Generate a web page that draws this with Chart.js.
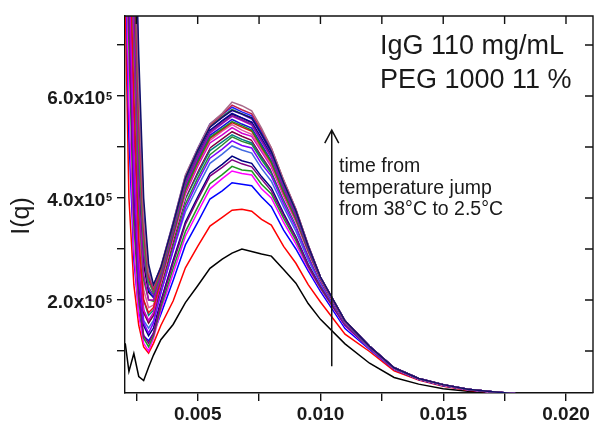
<!DOCTYPE html>
<html>
<head>
<meta charset="utf-8">
<script src="https://cdn.jsdelivr.net/npm/chart.js@4.4.1/dist/chart.umd.min.js"></script>
<style>
  html, body { margin: 0; padding: 0; background: #fff; }
  #wrap { width: 594px; height: 426px; position: relative; }
</style>
</head>
<body>
<div id="wrap"><canvas id="c"></canvas></div>
<script>
// q values shared by all curves
const qValues = [0.00205, 0.0022, 0.0024, 0.0026, 0.0028, 0.0030, 0.0032, 0.0035, 0.0040, 0.0045,
                 0.0050, 0.0055, 0.0060, 0.0064, 0.0068, 0.0072, 0.0076, 0.0080, 0.0085, 0.0090,
                 0.0095, 0.0100, 0.0110, 0.0120, 0.0130, 0.0140, 0.0150, 0.0160, 0.0170, 0.0180,
                 0.0190, 0.0210];

// I(q) in units of 1e5, one array per time step (earliest first)
const s01 = [1.15, 0.6, 0.95, 0.5, 0.42, 0.68, 0.92, 1.22, 1.52, 1.95, 2.28, 2.62, 2.8, 2.92, 3.0, 2.95, 2.9, 2.86, 2.6, 2.33, 1.93, 1.62, 1.14, 0.76, 0.48, 0.35, 0.26, 0.21, 0.18, 0.15, 0.12, 0.08];
const s02 = [7.8, 4.0, 2.3, 1.5, 1.08, 0.96, 1.15, 1.5, 1.98, 2.63, 3.05, 3.45, 3.62, 3.76, 3.78, 3.74, 3.58, 3.47, 3.05, 2.72, 2.3, 1.96, 1.33, 0.99, 0.61, 0.43, 0.31, 0.23, 0.19, 0.155, 0.125, 0.085];
const s03 = [9, 5.2, 2.8, 1.75, 1.3, 1.2, 1.35, 1.72, 2.38, 3.08, 3.52, 3.98, 4.14, 4.3, 4.27, 4.24, 4.02, 3.83, 3.37, 3.0, 2.57, 2.17, 1.44, 1.03, 0.64, 0.44, 0.32, 0.24, 0.19, 0.155, 0.125, 0.085];
const s04 = [9.5, 5.8, 3.0, 1.7, 1.15, 1.0, 1.25, 1.8, 2.52, 3.25, 3.72, 4.18, 4.38, 4.53, 4.48, 4.45, 4.18, 4.0, 3.52, 3.1, 2.62, 2.22, 1.49, 1.05, 0.65, 0.45, 0.33, 0.24, 0.195, 0.16, 0.125, 0.085];
const s05 = [10, 7, 3.5, 2.0, 1.25, 1.08, 1.3, 1.86, 2.62, 3.34, 3.82, 4.28, 4.46, 4.62, 4.55, 4.53, 4.27, 4.08, 3.6, 3.17, 2.66, 2.24, 1.51, 1.06, 0.66, 0.45, 0.33, 0.245, 0.195, 0.16, 0.125, 0.085];
const s06 = [11, 8, 4.2, 2.3, 1.5, 1.3, 1.45, 1.98, 2.78, 3.53, 4.02, 4.48, 4.66, 4.82, 4.73, 4.68, 4.42, 4.2, 3.7, 3.24, 2.7, 2.27, 1.52, 1.07, 0.66, 0.45, 0.33, 0.245, 0.195, 0.16, 0.125, 0.085];
const s07 = [10, 7.5, 3.8, 2.1, 1.3, 1.15, 1.35, 1.93, 2.72, 3.48, 3.97, 4.43, 4.6, 4.75, 4.67, 4.61, 4.37, 4.14, 3.66, 3.22, 2.68, 2.26, 1.51, 1.06, 0.65, 0.45, 0.33, 0.245, 0.195, 0.16, 0.125, 0.085];
const s08 = [12, 9, 5, 2.6, 1.6, 1.45, 1.6, 2.14, 2.97, 3.73, 4.22, 4.68, 4.86, 5.02, 4.94, 4.88, 4.58, 4.33, 3.82, 3.35, 2.78, 2.32, 1.54, 1.07, 0.66, 0.45, 0.33, 0.245, 0.195, 0.16, 0.125, 0.085];
const s09 = [12, 9.5, 5.5, 2.9, 1.8, 1.55, 1.7, 2.24, 3.07, 3.88, 4.39, 4.85, 5.04, 5.2, 5.11, 5.05, 4.75, 4.48, 3.95, 3.47, 2.88, 2.37, 1.55, 1.08, 0.66, 0.45, 0.33, 0.245, 0.195, 0.16, 0.125, 0.085];
const s10 = [11, 8.5, 4.5, 2.4, 1.55, 1.35, 1.55, 2.14, 2.97, 3.81, 4.32, 4.78, 4.96, 5.12, 5.03, 4.98, 4.67, 4.43, 3.89, 3.42, 2.84, 2.35, 1.55, 1.08, 0.66, 0.45, 0.33, 0.245, 0.195, 0.16, 0.125, 0.085];
const s11 = [12, 10, 6, 3.2, 2.0, 1.7, 1.8, 2.34, 3.17, 3.98, 4.47, 4.93, 5.1, 5.24, 5.15, 5.08, 4.79, 4.51, 3.97, 3.49, 2.9, 2.38, 1.56, 1.08, 0.66, 0.45, 0.335, 0.245, 0.195, 0.16, 0.125, 0.085];
const s12 = [11.5, 9, 5.2, 2.8, 1.75, 1.55, 1.7, 2.29, 3.15, 4.01, 4.52, 4.98, 5.16, 5.3, 5.21, 5.13, 4.83, 4.55, 4.0, 3.52, 2.92, 2.39, 1.56, 1.08, 0.66, 0.45, 0.335, 0.245, 0.195, 0.16, 0.125, 0.085];
const s13 = [12, 10, 6.5, 3.4, 2.1, 1.8, 1.85, 2.34, 3.22, 4.05, 4.57, 5.03, 5.21, 5.34, 5.25, 5.18, 4.87, 4.58, 4.02, 3.52, 2.93, 2.4, 1.57, 1.08, 0.66, 0.45, 0.335, 0.245, 0.195, 0.16, 0.125, 0.085];
const s14 = [11, 8.8, 5, 2.8, 1.8, 1.6, 1.75, 2.34, 3.22, 4.08, 4.62, 5.08, 5.24, 5.38, 5.27, 5.21, 4.91, 4.61, 4.04, 3.54, 2.94, 2.4, 1.57, 1.08, 0.66, 0.45, 0.335, 0.245, 0.195, 0.16, 0.125, 0.085];
const s15 = [12, 10, 6.8, 3.5, 2.2, 1.85, 1.9, 2.39, 3.27, 4.13, 4.67, 5.13, 5.31, 5.44, 5.33, 5.25, 4.95, 4.65, 4.07, 3.57, 2.96, 2.41, 1.57, 1.08, 0.66, 0.45, 0.335, 0.245, 0.195, 0.16, 0.125, 0.085];
const s16 = [12.5, 11, 8, 4.4, 2.7, 2.15, 2.05, 2.49, 3.37, 4.28, 4.82, 5.31, 5.51, 5.64, 5.57, 5.48, 5.15, 4.83, 4.22, 3.68, 3.02, 2.43, 1.58, 1.09, 0.67, 0.46, 0.34, 0.25, 0.2, 0.16, 0.13, 0.09];
const s17 = [11.5, 9.5, 6, 3.2, 2.0, 1.75, 1.85, 2.39, 3.27, 4.15, 4.69, 5.17, 5.34, 5.48, 5.39, 5.31, 4.99, 4.69, 4.1, 3.58, 2.97, 2.42, 1.58, 1.09, 0.67, 0.46, 0.34, 0.25, 0.2, 0.16, 0.13, 0.09];
const s18 = [13, 11.5, 8.5, 4.8, 2.9, 2.2, 2.05, 2.46, 3.32, 4.21, 4.75, 5.23, 5.4, 5.54, 5.45, 5.37, 5.05, 4.73, 4.15, 3.62, 3.0, 2.43, 1.58, 1.09, 0.67, 0.46, 0.34, 0.25, 0.2, 0.16, 0.13, 0.09];
const s19 = [12, 10.5, 7, 3.8, 2.4, 2.0, 1.98, 2.42, 3.29, 4.17, 4.71, 5.19, 5.36, 5.5, 5.42, 5.33, 5.01, 4.71, 4.12, 3.6, 2.98, 2.42, 1.58, 1.09, 0.67, 0.46, 0.34, 0.25, 0.2, 0.16, 0.13, 0.09];
const s20 = [12, 10, 7.2, 4.0, 2.5, 2.0, 2.0, 2.46, 3.35, 4.25, 4.79, 5.27, 5.46, 5.6, 5.52, 5.43, 5.11, 4.79, 4.19, 3.65, 3.01, 2.43, 1.58, 1.09, 0.67, 0.46, 0.34, 0.25, 0.2, 0.16, 0.13, 0.09];
const s21 = [13, 12, 9, 5.2, 3.2, 2.4, 2.15, 2.54, 3.42, 4.33, 4.87, 5.33, 5.52, 5.66, 5.57, 5.49, 5.17, 4.85, 4.24, 3.69, 3.04, 2.44, 1.59, 1.09, 0.67, 0.46, 0.34, 0.25, 0.2, 0.16, 0.13, 0.09];
const s22 = [12.5, 11, 8.2, 4.6, 2.9, 2.25, 2.1, 2.5, 3.39, 4.29, 4.83, 5.3, 5.48, 5.62, 5.54, 5.45, 5.13, 4.81, 4.21, 3.67, 3.03, 2.44, 1.59, 1.09, 0.67, 0.46, 0.34, 0.25, 0.2, 0.16, 0.13, 0.09];
const s23 = [13, 12, 9.5, 5.6, 3.4, 2.5, 2.2, 2.59, 3.47, 4.38, 4.92, 5.39, 5.58, 5.72, 5.64, 5.55, 5.23, 4.89, 4.27, 3.73, 3.05, 2.44, 1.59, 1.09, 0.67, 0.46, 0.34, 0.25, 0.2, 0.16, 0.13, 0.09];
const s24 = [12.5, 11.5, 8.8, 5.0, 3.1, 2.35, 2.15, 2.56, 3.45, 4.37, 4.92, 5.4, 5.6, 5.74, 5.65, 5.57, 5.25, 4.91, 4.29, 3.74, 3.06, 2.45, 1.59, 1.09, 0.67, 0.46, 0.34, 0.25, 0.2, 0.16, 0.13, 0.09];
const s25 = [13, 12, 10, 6.4, 3.7, 2.6, 2.28, 2.64, 3.52, 4.43, 4.97, 5.45, 5.64, 5.78, 5.69, 5.61, 5.29, 4.95, 4.33, 3.77, 3.08, 2.45, 1.59, 1.09, 0.67, 0.46, 0.34, 0.25, 0.2, 0.16, 0.13, 0.09];
const s26 = [12.5, 11.5, 9, 5.4, 3.3, 2.45, 2.2, 2.6, 3.49, 4.41, 4.95, 5.43, 5.64, 5.82, 5.73, 5.65, 5.33, 4.98, 4.35, 3.78, 3.08, 2.45, 1.59, 1.09, 0.67, 0.46, 0.34, 0.25, 0.2, 0.16, 0.13, 0.09];
const s27 = [13, 12, 10, 6.2, 3.6, 2.55, 2.28, 2.66, 3.52, 4.45, 4.97, 5.45, 5.66, 5.88, 5.81, 5.71, 5.37, 4.98, 4.35, 3.78, 3.08, 2.44, 1.59, 1.09, 0.67, 0.46, 0.34, 0.25, 0.2, 0.16, 0.13, 0.09];
const s28 = [13, 12.5, 10.5, 6.8, 4.0, 2.7, 2.3, 2.64, 3.49, 4.39, 4.93, 5.39, 5.58, 5.72, 5.65, 5.57, 5.25, 4.91, 4.3, 3.75, 3.06, 2.45, 1.59, 1.09, 0.67, 0.46, 0.34, 0.25, 0.2, 0.16, 0.13, 0.09];

const seriesList = [s01, s02, s03, s04, s05, s06, s07, s08, s09, s10, s11, s12, s13, s14,
                    s15, s16, s17, s18, s19, s20, s21, s22, s23, s24, s25, s26, s27, s28];
const seriesColors = ['#000000', '#ff0000', '#0000ff', '#ff00ff', '#1f9a1f', '#000080', '#800080',
                      '#4169e1', '#2e8b2e', '#8000ff', '#008080', '#800040', '#ffffff', '#d000d0',
                      '#e05aa0', '#111111', '#e01010', '#1010e0', '#228b22', '#b000c0', '#000099',
                      '#7a1f9a', '#7f00ff', '#3a9a3a', '#2020ff', '#c02050', '#a86a8a', '#10106a'];

const xTickValues = [0.0025, 0.005, 0.0075, 0.010, 0.0125, 0.015, 0.0175, 0.020];
const xTickLabels = ['', '0.005', '', '0.010', '', '0.015', '', '0.020'];
const yTickValues = [1, 2, 3, 4, 5, 6, 7];
const yTickLabels = ['', '2.0x10', '', '4.0x10', '', '6.0x10', ''];
const yTickExp = '5';

const FONT = '"Liberation Sans", Arial, sans-serif';

// frame, mirrored ticks, y labels with exponent, notes and arrow
const extras = {
    id: 'extras',
    afterDraw(chart) {
        const ctx = chart.ctx, a = chart.chartArea, xs = chart.scales.x, ys = chart.scales.y;
        ctx.save();
        ctx.strokeStyle = '#111'; ctx.lineWidth = 1.4;
        ctx.beginPath();
        ctx.moveTo(a.left, a.top); ctx.lineTo(a.right, a.top); ctx.lineTo(a.right, a.bottom);
        xTickValues.forEach(v => { const px = xs.getPixelForValue(v); ctx.moveTo(px, a.top); ctx.lineTo(px, a.top + 8); });
        yTickValues.forEach(v => { const py = ys.getPixelForValue(v); ctx.moveTo(a.right, py); ctx.lineTo(a.right - 8, py); });
        ctx.stroke();

        // y tick labels
        ctx.fillStyle = '#1a1a1a';
        ctx.textAlign = 'right'; ctx.textBaseline = 'alphabetic';
        yTickValues.forEach((v, i) => {
            if (!yTickLabels[i]) return;
            const py = ys.getPixelForValue(v);
            ctx.font = 'bold 11px ' + FONT;
            ctx.fillText(yTickExp, 112, py + 3.5);
            const w = ctx.measureText(yTickExp).width;
            ctx.font = 'bold 19px ' + FONT;
            ctx.fillText(yTickLabels[i], 112 - w - 0.5, py + 8);
        });

        // y title
        ctx.save();
        ctx.translate(22, 216); ctx.rotate(-Math.PI / 2);
        ctx.textAlign = 'center'; ctx.textBaseline = 'middle';
        ctx.font = '25px ' + FONT;
        ctx.fillText('I(q)', 0, 0);
        ctx.restore();

        // sample label
        ctx.textAlign = 'left';
        ctx.font = '27px ' + FONT;
        ctx.fillText('IgG 110 mg/mL', 380, 54);
        ctx.fillText('PEG 1000 11 %', 380, 88);

        // arrow
        const ax = xs.getPixelForValue(0.01046), y0 = ys.getPixelForValue(0.7), y1 = ys.getPixelForValue(5.33);
        ctx.lineWidth = 1.5;
        ctx.beginPath();
        ctx.moveTo(ax, y0); ctx.lineTo(ax, y1);
        ctx.moveTo(ax - 7, y1 + 13); ctx.lineTo(ax, y1); ctx.lineTo(ax + 7, y1 + 13);
        ctx.stroke();

        ctx.font = '19.5px ' + FONT;
        ctx.fillText('time from', 339, 172);
        ctx.fillText('temperature jump', 339, 194);
        ctx.fillText('from 38°C to 2.5°C', 339, 215);
        ctx.restore();
    }
};

const datasets = seriesList.map((s, i) => ({
    data: qValues.map((q, j) => ({ x: q, y: s[j] })),
    borderColor: seriesColors[i],
    borderWidth: 1.5,
    pointRadius: 0,
    tension: 0,
    fill: false,
    clip: 0,
    order: seriesList.length - i
}));

new Chart(document.getElementById('c'), {
    type: 'line',
    data: { datasets },
    options: {
        responsive: true,
        maintainAspectRatio: false,
        animation: false,
        events: [],
        layout: { padding: { top: 16, right: 1, left: 0, bottom: 0 } },
        plugins: { legend: { display: false }, tooltip: { enabled: false } },
        scales: {
            x: {
                type: 'linear', position: 'bottom',
                min: 0.00204, max: 0.02110,
                border: { display: true, color: '#111', width: 1.4 },
                grid: { drawOnChartArea: false, drawTicks: true, tickLength: 8, color: '#111', lineWidth: 1.4 },
                afterBuildTicks: s => { s.ticks = xTickValues.map(v => ({ value: v })); },
                afterFit: s => { s.height = 33; },
                ticks: {
                    autoSkip: false, maxRotation: 0, padding: 2, color: '#1a1a1a',
                    font: { family: FONT, size: 19, weight: 'bold' },
                    callback: (v, i) => xTickLabels[i]
                }
            },
            y: {
                type: 'linear', position: 'left',
                min: 0.176, max: 7.569,
                border: { display: true, color: '#111', width: 1.4 },
                grid: { drawOnChartArea: false, drawTicks: true, tickLength: 8, color: '#111', lineWidth: 1.4 },
                afterBuildTicks: s => { s.ticks = yTickValues.map(v => ({ value: v })); },
                afterFit: s => { s.width = 125; },
                ticks: { display: false }
            }
        }
    },
    plugins: [extras]
});
</script>
</body>
</html>
